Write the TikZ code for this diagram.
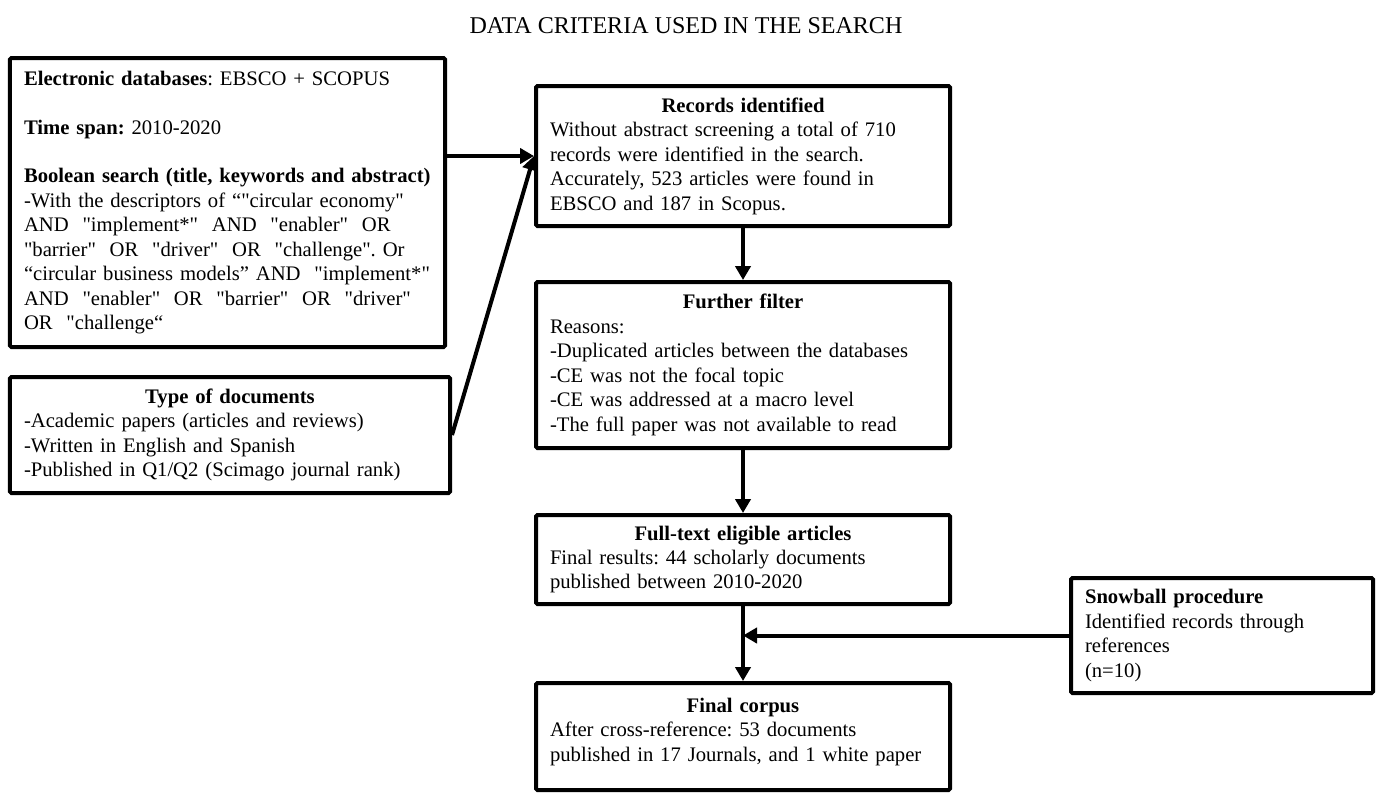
\documentclass[tikz,border=0pt]{standalone}
\usepackage{fontspec}
\setmainfont{Liberation Serif}
\newfontfamily\critfont{Liberation Serif}
\usepackage{tikz}
\usetikzlibrary{arrows.meta}
\frenchspacing
\hyphenpenalty=10000
\exhyphenpenalty=10000

\newcommand{\boxhead}[1]{\makebox[\hsize]{\textbf{#1}}}

\begin{document}
\begin{tikzpicture}[
  crit/.style={draw, line width=0.1cm, rounded corners=1pt, inner xsep=0.35cm, inner ysep=0pt,
    align=left, font=\critfont\fontsize{14.7}{17.4}\selectfont},
  flow/.style={line width=0.1cm, -{Triangle[length=0.35cm,width=0.38cm]}}
]

\useasboundingbox (0,0) rectangle (34.475,-19.8);

\node[font=\critfont\fontsize{17.1}{20}\selectfont, anchor=base] (head) at (17.15,-0.825) {DATA CRITERIA USED IN THE SEARCH};

% search criteria
\node[crit, text width=10.175cm, minimum height=7.225cm] (elec) at (5.6875,-5.0625) {%
\textbf{Electronic databases}: EBSCO + SCOPUS\\[17.4pt]
\textbf{Time span:} 2010-2020\\[17.4pt]
\textbf{Boolean search (title, keywords and abstract)}\\
-With the descriptors of “"circular economy"\\
AND\ \ "implement*"\ \ AND\ \ "enabler"\ \ OR\\
"barrier"\ \ OR\ \ "driver"\ \ OR\ \ "challenge". Or\\
“circular business models” AND\ \ "implement*"\\
AND\ \ "enabler"\ \ OR\ \ "barrier"\ \ OR\ \ "driver"\\
OR\ \ "challenge“};
\node[crit, text width=10.3cm, minimum height=2.9cm] (type) at (5.75,-10.875) {%
\boxhead{Type of documents}\\
-Academic papers (articles and reviews)\\
-Written in English and Spanish\\
-Published in Q1/Q2 (Scimago journal rank)};

% main flow
\node[crit, text width=9.65cm, minimum height=3.5cm] (recs) at (18.575,-3.9) {%
\boxhead{Records identified}\\
Without abstract screening a total of 710\\
records were identified in the search.\\
Accurately, 523 articles were found in\\
EBSCO and 187 in Scopus.};
\node[crit, text width=9.65cm, minimum height=4.15cm] (filt) at (18.575,-9.125) {%
\boxhead{Further filter}\\
Reasons:\\
-Duplicated articles between the databases\\
-CE was not the focal topic\\
-CE was addressed at a macro level\\
-The full paper was not available to read};
\node[crit, text width=9.65cm, minimum height=2.225cm] (full) at (18.575,-13.9875) {%
\boxhead{Full-text eligible articles}\\
Final results: 44 scholarly documents\\
published between 2010-2020};
\node[crit, text width=9.65cm, minimum height=2.675cm] (corp) at (18.575,-18.4125) {%
\boxhead{Final corpus}\\
After cross-reference: 53 documents\\
published in 17 Journals, and 1 white paper\rule[-10pt]{0pt}{10pt}};
\node[crit, text width=6.85cm, minimum height=2.875cm] (snow) at (30.55,-15.8875) {%
\textbf{Snowball procedure}\\
Identified records through\\
references\\
(n=10)};

\draw[flow] (elec.east |- recs.west) -- (recs.west);
\draw[flow] (type.east) -- (recs.west);
\draw[flow] (recs) -- (filt);
\draw[flow] (filt) -- (full);
\draw[flow] (full) -- (corp);
\draw[flow] (snow.west) -- (full.south |- snow.west);

\end{tikzpicture}
\end{document}
